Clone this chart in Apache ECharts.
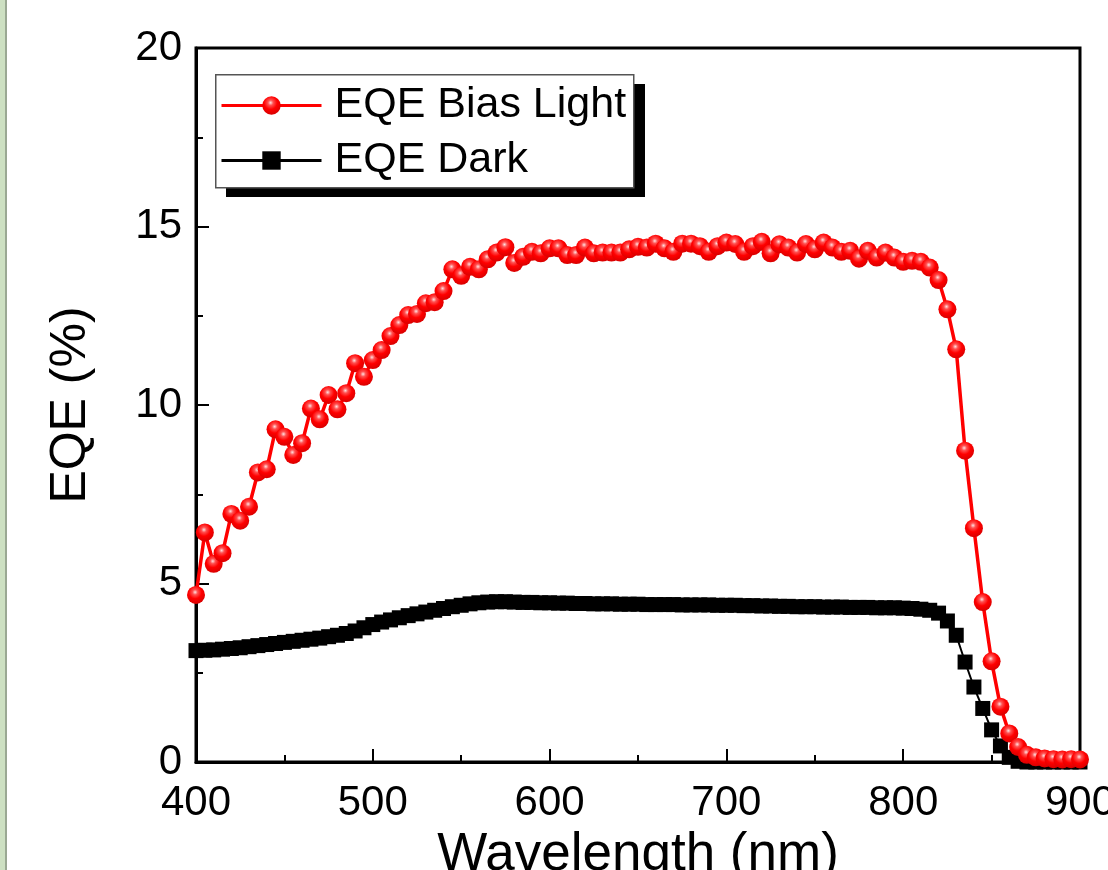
<!DOCTYPE html>
<html>
<head>
<meta charset="utf-8">
<script src="https://cdn.jsdelivr.net/npm/echarts@6/dist/echarts.min.js"></script>
<style>
html, body { margin: 0; padding: 0; background: #fff; }
#chart { width: 1108px; height: 870px; }
</style>
</head>
<body>
<div id="chart"></div>
<script>
const FONT = '"Liberation Sans", Arial, sans-serif';

const wavelength = [
    400, 405, 410, 415, 420, 425, 430, 435, 440, 445,
    450, 455, 460, 465, 470, 475, 480, 485, 490, 495,
    500, 505, 510, 515, 520, 525, 530, 535, 540, 545,
    550, 555, 560, 565, 570, 575, 580, 585, 590, 595,
    600, 605, 610, 615, 620, 625, 630, 635, 640, 645,
    650, 655, 660, 665, 670, 675, 680, 685, 690, 695,
    700, 705, 710, 715, 720, 725, 730, 735, 740, 745,
    750, 755, 760, 765, 770, 775, 780, 785, 790, 795,
    800, 805, 810, 815, 820, 825, 830, 835, 840, 845,
    850, 855, 860, 865, 870, 875, 880, 885, 890, 895,
    900
];

// EQE under bias light (%)
const eqeLight = [
    4.68, 6.43, 5.55, 5.85, 6.95, 6.76, 7.15, 8.11, 8.20, 9.32,
    9.11, 8.60, 8.93, 9.90, 9.60, 10.28, 9.88, 10.33, 11.17, 10.79,
    11.26, 11.54, 11.93, 12.24, 12.52, 12.55, 12.85, 12.88, 13.19, 13.80,
    13.62, 13.87, 13.80, 14.08, 14.27, 14.42, 13.98, 14.15, 14.29, 14.25,
    14.39, 14.39, 14.20, 14.20, 14.41, 14.25, 14.27, 14.27, 14.27, 14.36,
    14.43, 14.41, 14.52, 14.39, 14.29, 14.52, 14.52, 14.45, 14.29, 14.45,
    14.55, 14.51, 14.29, 14.45, 14.57, 14.25, 14.50, 14.41, 14.27, 14.51,
    14.36, 14.55, 14.41, 14.29, 14.32, 14.10, 14.32, 14.13, 14.27, 14.13,
    14.01, 14.04, 14.01, 13.85, 13.50, 12.68, 11.56, 8.72, 6.55, 4.48,
    2.82, 1.55, 0.80, 0.42, 0.20, 0.13, 0.10, 0.08, 0.07, 0.08,
    0.07
];

// EQE in the dark (%)
const eqeDark = [
    3.12, 3.13, 3.14, 3.16, 3.18, 3.20, 3.23, 3.26, 3.29, 3.32,
    3.35, 3.38, 3.41, 3.44, 3.47, 3.51, 3.55, 3.60, 3.67, 3.76,
    3.85, 3.92, 3.98, 4.04, 4.10, 4.15, 4.20, 4.25, 4.30, 4.35,
    4.39, 4.43, 4.46, 4.48, 4.49, 4.49, 4.48, 4.47, 4.47, 4.46,
    4.46, 4.45, 4.45, 4.44, 4.44, 4.43, 4.43, 4.43, 4.42, 4.42,
    4.42, 4.41, 4.41, 4.41, 4.41, 4.40, 4.40, 4.40, 4.40, 4.39,
    4.39, 4.39, 4.38, 4.38, 4.37, 4.37, 4.36, 4.36, 4.35, 4.35,
    4.35, 4.34, 4.34, 4.34, 4.33, 4.33, 4.33, 4.32, 4.32, 4.32,
    4.31, 4.30, 4.28, 4.25, 4.17, 3.95, 3.55, 2.80, 2.10, 1.50,
    0.90, 0.45, 0.13, 0.02, 0.00, 0.00, 0.00, 0.00, 0.00, 0.00,
    0.00
];

const xTicks = { min: 400, max: 900, step: 100 };
const yTicks = { min: 0, max: 20, step: 5 };

const toPairs = ys => wavelength.map((w, i) => [w, ys[i]]);

const ballColor = {
    type: 'radial', x: 0.45, y: 0.35, r: 0.65,
    colorStops: [
        { offset: 0, color: '#ffe0e0' },
        { offset: 0.22, color: '#ff5050' },
        { offset: 0.55, color: '#ff0000' },
        { offset: 1, color: '#d80000' }
    ]
};

function axisCommon() {
    return {
        type: 'value',
        axisLine: { show: true, lineStyle: { color: '#000', width: 3 } },
        axisTick: { show: true, inside: true, length: 13, lineStyle: { color: '#000', width: 2 } },
        minorTick: { show: true, splitNumber: 2, length: 7, lineStyle: { color: '#000', width: 2 } },
        splitLine: { show: false },
        axisLabel: { color: '#000', fontSize: 42, fontFamily: FONT },
        nameLocation: 'middle',
        nameTextStyle: { color: '#000', fontSize: 50, fontFamily: FONT }
    };
}

const chart = echarts.init(document.getElementById('chart'));

const xAxis = Object.assign(axisCommon(), {
    min: xTicks.min, max: xTicks.max, interval: xTicks.step,
    name: 'Wavelength (nm)', nameGap: 64
});
xAxis.axisLabel.margin = 20;
xAxis.nameTextStyle.fontSize = 53;

const yAxis = Object.assign(axisCommon(), {
    min: yTicks.min, max: yTicks.max, interval: yTicks.step,
    name: 'EQE (%)', nameGap: 100
});
yAxis.axisLabel.margin = 14;

chart.setOption({
    animation: false,
    backgroundColor: '#fff',
    grid: {
        left: 196, right: 28, top: 48, bottom: 108,
        outerBoundsMode: 'none',
        containLabel: false,
        show: true, borderColor: '#000', borderWidth: 3
    },
    graphic: [
        { type: 'rect', left: 0, top: 0, shape: { width: 5, height: 870 }, style: { fill: '#cde0c2' }, z: 0 },
        { type: 'rect', left: 5, top: 0, shape: { width: 2, height: 870 }, style: { fill: '#9aa893' }, z: 0 },
        // legend box with its drop shadow
        { type: 'rect', left: 226, top: 84, shape: { width: 419, height: 113 }, style: { fill: '#000' }, z: 5 },
        { type: 'rect', left: 215, top: 74, shape: { width: 418, height: 113 }, style: { fill: '#fff', stroke: '#555', lineWidth: 1.5 }, z: 6 }
    ],
    legend: {
        data: ['EQE Bias Light', 'EQE Dark'],
        orient: 'vertical',
        left: 220, top: 84,
        padding: 0,
        itemWidth: 100, itemHeight: 23, itemGap: 12,
        z: 10,
        lineStyle: { width: 3 },
        textStyle: { color: '#000', fontSize: 43, lineHeight: 43, fontFamily: FONT, padding: [0, 0, 0, 8] }
    },
    xAxis: xAxis,
    yAxis: yAxis,
    series: [
        {
            name: 'EQE Dark',
            type: 'line',
            data: toPairs(eqeDark),
            symbol: 'rect',
            symbolSize: 15,
            showAllSymbol: true,
            lineStyle: { color: '#000', width: 2 },
            itemStyle: { color: '#000' },
            z: 2
        },
        {
            name: 'EQE Bias Light',
            type: 'line',
            data: toPairs(eqeLight),
            symbol: 'circle',
            symbolSize: 18,
            showAllSymbol: true,
            lineStyle: { color: '#ff0000', width: 3.5 },
            itemStyle: { color: ballColor },
            z: 3
        }
    ]
});
</script>
</body>
</html>
